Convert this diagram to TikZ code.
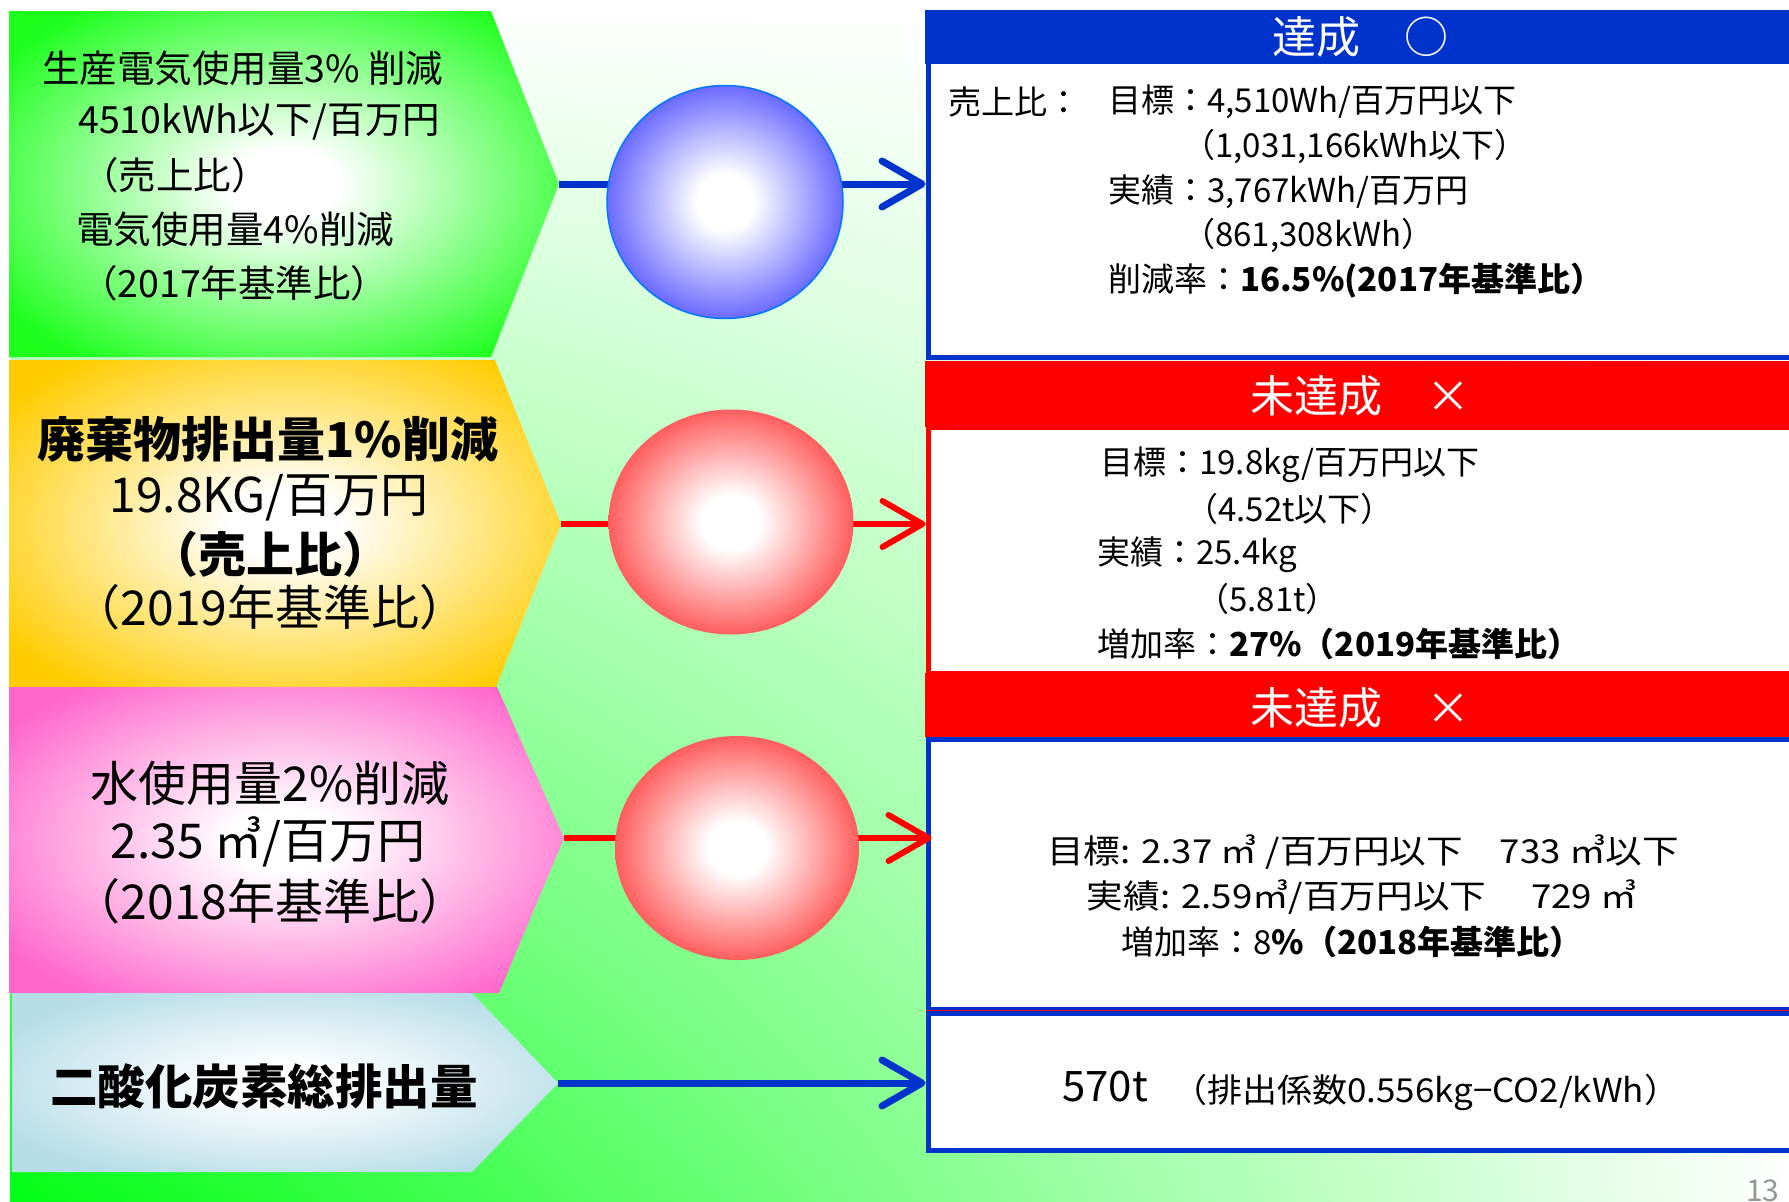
\documentclass[tikz,border=0pt]{standalone}
\usepackage{fontspec}
\setmainfont{Noto Sans CJK JP}
\usetikzlibrary{arrows.meta,shapes.geometric,shadings}

\definecolor{gcol}{RGB}{30,255,30}
\definecolor{ycol}{RGB}{255,204,0}
\definecolor{pcol}{RGB}{255,102,204}
\definecolor{lbcol}{RGB}{183,221,232}
\definecolor{bl}{RGB}{0,51,204}
\definecolor{rd}{RGB}{255,0,0}
\definecolor{ellb}{RGB}{20,20,255}
\definecolor{ellbedge}{RGB}{0,120,255}
\definecolor{bggreen}{RGB}{0,255,20}
\definecolor{pgnum}{RGB}{150,150,150}

\pgfdeclareradialshading{gshade}{\pgfpoint{0bp}{0bp}}{color(0bp)=(white); color(5bp)=(white); color(31bp)=(gcol); color(100bp)=(gcol)}
\pgfdeclareradialshading{yshade}{\pgfpoint{0bp}{0bp}}{color(0bp)=(white); color(5bp)=(white); color(31bp)=(ycol); color(100bp)=(ycol)}
\pgfdeclareradialshading{pshade}{\pgfpoint{0bp}{0bp}}{color(0bp)=(white); color(5bp)=(white); color(31bp)=(pcol); color(100bp)=(pcol)}
\pgfdeclareradialshading{lbshade}{\pgfpoint{0bp}{0bp}}{color(0bp)=(white); color(5bp)=(white); color(29bp)=(lbcol); color(100bp)=(lbcol)}
\pgfdeclareradialshading{bshade}{\pgfpoint{0bp}{0bp}}{color(0bp)=(white); color(6bp)=(white); color(36bp)=(ellb); color(100bp)=(ellb)}
\pgfdeclareradialshading{rshade}{\pgfpoint{0bp}{0bp}}{color(0bp)=(white); color(6bp)=(white); color(36bp)=(rd); color(100bp)=(rd)}

\begin{document}
\begin{tikzpicture}[x=1pt,y=-1pt,
  txt/.style={inner sep=0pt, anchor=west},
  ctxt/.style={inner sep=0pt, anchor=center},
  fl/.style={font=\fontsize{37.5}{37.5}\selectfont},
  fb/.style={font=\fontsize{48}{48}\selectfont},
  fr/.style={font=\fontsize{33}{33}\selectfont},
  fh/.style={font=\fontsize{44}{44}\selectfont, text=white},
  bline/.style={draw=bl, line width=7pt, -{Straight Barb[length=40pt,width=46pt,round]}},
  rline/.style={draw=rd, line width=6pt, -{Straight Barb[length=40pt,width=46pt,round]}},
  bodybox/.style={line width=5pt, fill=white, inner sep=0pt, anchor=north west, minimum width=872pt},
  headbox/.style={inner sep=0pt, outer sep=0pt, anchor=north west, minimum width=875pt},
  ellnode/.style={ellipse, inner sep=0pt, shade}
]
\useasboundingbox (0,0) rectangle (1789,1202);
\fill[white] (0,0) rectangle (1789,1202);
\shade[lower left=bggreen, lower right=white, upper left=white, upper right=white] (10,10) rectangle (1789,1202);

% left pentagons
\shade[shading=gshade] (9,11) -- (491,11) -- (559,184) -- (491,357) -- (9,357) -- cycle;
\shade[shading=yshade] (9,360) -- (495,360) -- (561,524) -- (496,687) -- (9,687) -- cycle;
\shade[shading=pshade] (9,687) -- (497,687) -- (564,838) -- (499,993) -- (9,993) -- cycle;
\shade[shading=lbshade] (12,993) -- (472,993) -- (558,1083) -- (472,1172) -- (12,1172) -- cycle;
\coordinate (tg) at (559,184);
\coordinate (ty) at (561,524);
\coordinate (tp) at (564,838);
\coordinate (tl) at (558,1083);

% right boxes
\node[bodybox, draw=bl, minimum height=345pt] (box1) at (925.5,10) {};
\node[headbox, fill=bl, minimum height=54pt] (h1) at (925,10) {};
\node[bodybox, draw=rd, minimum height=246pt] (box2) at (925.5,424.5) {};
\node[headbox, fill=rd, minimum height=66pt] (h2) at (925,361) {};
\node[headbox, fill=rd, minimum height=64pt] (h3) at (925,673) {};
\node[bodybox, draw=bl, minimum height=270pt] (box3) at (925.5,736.5) {};
\draw[rd, line width=4pt] (box3.south west) -- (box3.south east);
\node[bodybox, draw=bl, minimum height=137pt] (box4) at (925.5,1011) {};

\node[ctxt, fh] (h1t) at (1360,37) {達成　○};
\node[ctxt, fh] (h2t) at (1360,396) {未達成　×};
\node[ctxt, fh] (h3t) at (1360,708) {未達成　×};

% connectors
\draw[bline] (tg) -- (tg -| box1.west);
\draw[rline] (ty) -- (ty -| box2.west);
\draw[rline] (tp) -- ([xshift=6pt] tp -| box3.west);
\draw[bline] (tl) -- (tl -| box4.west);

% ellipses
\node[ellnode, shading=bshade, draw=ellbedge, line width=1.5pt, minimum width=236pt, minimum height=233pt] (e1) at (725,202) {};
\node[ellnode, shading=rshade, minimum width=245pt, minimum height=225pt] (e2) at (731,522) {};
\node[ellnode, shading=rshade, minimum width=244pt, minimum height=224pt] (e3) at (737,848) {};

% left texts
\node[txt, fl] (g1a) at (42,68) {生産電気使用量3\% 削減};
\node[txt, fl] (g1b) at (78,122) {4510kWh以下/百万円};
\node[txt, fl] (g1c) at (81,175) {（売上比）};
\node[txt, fl] (g1d) at (76,229) {電気使用量4\%削減};
\node[txt, fl] (g1e) at (80,283) {（2017年基準比）};

\node[ctxt, fb] (y1a) at (268,439) {\textbf{廃棄物排出量1\%削減}};
\node[ctxt, fb] (y1b) at (269,498) {19.8KG/百万円};
\node[ctxt, fb] (y1c) at (270,554) {\textbf{（売上比）}};
\node[ctxt, fb] (y1d) at (270,607) {（2019年基準比）};

\node[ctxt, fb] (p1a) at (270,783) {水使用量2\%削減};
\node[ctxt, fb] (p1b) at (268,842) {2.35 ㎥/百万円};
\node[ctxt, fb] (p1c) at (270,901) {（2018年基準比）};

\node[ctxt, font=\fontsize{47.5}{47.5}\selectfont] (lb1) at (264,1086) {\textbf{二酸化炭素総排出量}};

% box 1 texts
\node[txt, fr] (b1a) at (948,102) {売上比：};
\node[txt, fr] (b1b) at (1108,102) {目標：4,510Wh/百万円以下};
\node[txt, fr] (b1c) at (1182,147) {（1,031,166kWh以下）};
\node[txt, fr] (b1d) at (1108,192) {実績：3,767kWh/百万円};
\node[txt, fr] (b1e) at (1182,236) {（861,308kWh）};
\node[txt, fr] (b1f) at (1108,281) {削減率：\textbf{16.5\%(2017年基準比）}};

% box 2 texts
\node[txt, fr] (b2a) at (1100,465) {目標：19.8kg/百万円以下};
\node[txt, fr] (b2b) at (1185,509) {（4.52t以下）};
\node[txt, fr] (b2c) at (1097,555) {実績：25.4kg};
\node[txt, fr] (b2d) at (1196,599) {（5.81t）};
\node[txt, fr] (b2e) at (1097,644) {増加率：\textbf{27\%（2019年基準比）}};

% box 3 texts
\node[ctxt, fr] (b3a) at (1363,852) {\scalebox{1.11}[1]{目標: 2.37 ㎥ /百万円以下　733 ㎥以下}};
\node[ctxt, fr] (b3b) at (1362,897) {\scalebox{1.11}[1]{実績: 2.59㎥/百万円以下　 729 ㎥}};
\node[ctxt, fr] (b3c) at (1352,942) {増加率：8\textbf{\%（2018年基準比）}};

% box 4 texts
\node[txt, font=\fontsize{42}{42}\selectfont] (b4a) at (1062,1087) {570t};
\node[txt, font=\fontsize{33}{33}\selectfont] (b4b) at (1172,1092) {\scalebox{1.06}[1]{（排出係数0.556kg−CO2/kWh）}};

\node[inner sep=0pt, anchor=base west, text=pgnum, font=\fontsize{30}{30}\selectfont] (pg) at (1746,1201) {13};
\end{tikzpicture}
\end{document}
